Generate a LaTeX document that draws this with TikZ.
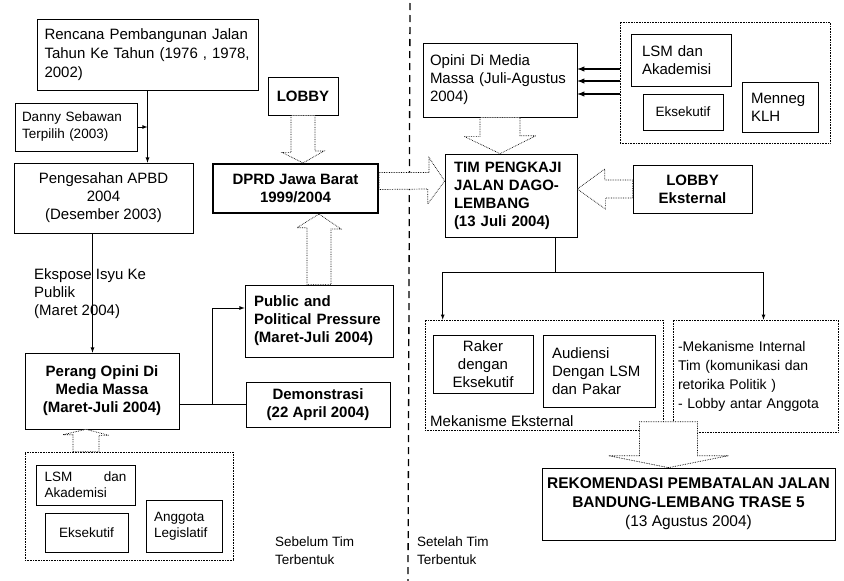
\documentclass[tikz,border=0pt]{standalone}
\usepackage{fontspec}
\setmainfont{Liberation Sans}
\usepackage{tikz}
\usetikzlibrary{shapes,arrows}

\begin{document}
\begin{tikzpicture}[x=1pt,y=-1pt]
		\tikzstyle {kotak} = [draw, line width=0.7pt, inner sep=0pt, align=center, font=\fontsize{15}{18}\selectfont]
		\tikzstyle {tebal} = [font=\bfseries\fontsize{15}{18}\selectfont]
		\tikzstyle {kecil} = [font=\fontsize{13.5}{16}\selectfont]
		\tikzstyle {kiri} = [align=left]
		\tikzstyle {grup} = [draw, densely dotted, line width=0.6pt, inner sep=0pt]
		\tikzstyle {teks} = [inner sep=0pt, align=left, font=\fontsize{15}{18}\selectfont]
		\tikzstyle {panah} = [-latex, line width=0.8pt]
		\tikzstyle {panah tebal} = [-latex, line width=1.4pt]
		\tikzstyle {panahblok} = [draw, densely dotted, line width=0.7pt, fill=white]
		\tikzstyle {pemisah} = [dash pattern=on 7pt off 5pt, line width=1.3pt]

		\useasboundingbox (0,0) rectangle (844,581);

		% sebelum tim terbentuk
		\node[kotak, kiri, font=\fontsize{15}{19}\selectfont, minimum width=221pt, minimum height=71pt, text width=206pt] (rencana) at (147.5,54.5) {Rencana Pembangunan Jalan\\Tahun Ke Tahun (1976 , 1978,\\2002)};
		\node[kotak, kiri, font=\fontsize{13.5}{17}\selectfont, minimum width=122pt, minimum height=48pt, text width=108pt] (danny) at (76,127) {Danny Sebawan\\Terpilih  (2003)};
		\node[kotak, minimum width=179pt, minimum height=70pt] (peng) at (103.5,198) {Pengesahan APBD\\2004\\(Desember 2003)};
		\node[teks, anchor=north west] (ekspose) at (34,268) {Ekspose Isyu Ke\\Publik\\(Maret 2004)};
		\node[kotak, tebal, minimum width=154pt, minimum height=76pt] (perang) at (102,391) {Perang Opini Di\\Media Massa\\(Maret-Juli 2004)};
		\node[kotak, tebal, kiri, minimum width=148pt, minimum height=72pt, text width=130pt] (public) at (319,321) {Public and\\Political Pressure\\(Maret-Juli 2004)};
		\node[kotak, tebal, minimum width=144pt, minimum height=45pt] (demo) at (318,404.5) {Demonstrasi\\(22 April 2004)};
		\node[kotak, tebal, line width=2pt, minimum width=165pt, minimum height=49pt] (dprd) at (295.5,188.5) {DPRD Jawa Barat\\1999/2004};
		\node[kotak, tebal, minimum width=70pt, minimum height=38pt] (lobby) at (303,96) {LOBBY};

		\node[grup, minimum width=208pt, minimum height=108pt] (grpkiri) at (129,506) {};
		\node[kotak, kecil, kiri, minimum width=99pt, minimum height=40pt, text width=82pt] (lsmkiri) at (85.5,485) {LSM \hfill dan\\Akademisi};
		\node[kotak, kecil, minimum width=83pt, minimum height=39pt] (ekskiri) at (86.5,532.5) {Eksekutif};
		\node[kotak, kecil, kiri, minimum width=76pt, minimum height=52pt, text width=60pt] (anggota) at (184,526) {Anggota\\Legislatif};
		\node[teks, anchor=north west, font=\fontsize{13.5}{18}\selectfont] (sebelum) at (275,537) {Sebelum Tim\\Terbentuk};

		\draw[panah] (rencana.south) -- (rencana.south |- peng.north);
		\draw[panah] (danny.east) -- (danny.east -| rencana.south);
		\draw[panah] ([xshift=-11pt]peng.south) -- ([xshift=-11pt]peng.south |- perang.north);
		\draw[line width=0.8pt] (perang.east |- demo.west) -- (demo.west);
		\coordinate (cabang) at (212,404.5);
		\draw[panah] (cabang) |- ([yshift=13pt]public.west);

		\draw[panahblok] ([xshift=-12pt]lobby.south) -- ++(0,37) -- ++(-9,0) -- (lobby.south |- dprd.north) -- ++(21,-12) -- ++(-9,0) -- ([xshift=12pt]lobby.south) -- cycle;
		\draw[panahblok] ([xshift=-12pt]public.north) -- ++(0,-57) -- ++(-10,0) -- (public.north |- dprd.south) -- ++(22,15) -- ++(-10,0) -- ([xshift=12pt]public.north) -- cycle;
		\draw[panahblok] ([xshift=-56pt]grpkiri.north) -- ++(0,-17) -- ++(-10,0) -- ([xshift=-43pt]grpkiri.north |- perang.south) -- ++(23,6) -- ++(-10,0) -- ([xshift=-30pt]grpkiri.north) -- cycle;

		\draw[pemisah] (410,3) -- (408,581);

		% setelah tim terbentuk
		\node[kotak, kiri, minimum width=154pt, minimum height=74pt, text width=140pt] (opini) at (500,80) {Opini Di Media\\Massa (Juli-Agustus\\2004)};
		\node[grup, minimum width=210pt, minimum height=121pt] (grpkanan) at (725,82.5) {};
		\node[kotak, kiri, minimum width=100pt, minimum height=52pt, text width=78pt] (lsmkanan) at (681,60) {LSM dan\\Akademisi};
		\node[kotak, kecil, minimum width=80pt, minimum height=36pt] (ekskanan) at (683,112) {Eksekutif};
		\node[kotak, kiri, minimum width=76pt, minimum height=50pt, text width=58pt] (menneg) at (780,107) {Menneg\\KLH};
		\node[kotak, tebal, kiri, minimum width=132pt, minimum height=83pt, text width=114pt] (tim) at (511,195.5) {TIM PENGKAJI\\JALAN DAGO-\\LEMBANG\\(13 Juli 2004)};
		\node[kotak, tebal, minimum width=119pt, minimum height=48pt] (lobbyx) at (692.5,189) {LOBBY\\Eksternal};

		\node[grup, minimum width=238pt, minimum height=110pt] (ekst) at (544,375) {};
		\node[kotak, minimum width=100pt, minimum height=58pt] (raker) at (483,364) {Raker\\dengan\\Eksekutif};
		\node[kotak, kiri, minimum width=112pt, minimum height=72pt, text width=94pt] (audiensi) at (599,371) {Audiensi\\Dengan LSM\\dan Pakar};
		\node[teks, anchor=west] (mekeks) at (430,421) {Mekanisme Eksternal};
		\node[grup, kiri, font=\fontsize{14}{19}\selectfont, minimum width=165pt, minimum height=112pt, text width=155pt] (intern) at (755.5,376) {-Mekanisme Internal\\Tim  (komunikasi dan\\retorika Politik )\\- Lobby antar Anggota};
		\node[kotak, tebal, font=\bfseries\fontsize{15.5}{19}\selectfont, minimum width=293pt, minimum height=72pt] (rekom) at (688.5,504) {REKOMENDASI PEMBATALAN JALAN\\BANDUNG-LEMBANG TRASE 5\\{\mdseries (13 Agustus 2004)}};
		\node[teks, anchor=north west, font=\fontsize{13.5}{18}\selectfont] (setelah) at (417,537) {Setelah Tim\\Terbentuk};

		\draw[panahblok] ([yshift=16pt]dprd.east) -- ++(50,0) -- ++(0,-15) -- ([yshift=7.5pt]dprd.east -| tim.west) -- ++(-17,23) -- ++(0,-15) -- ([yshift=-1pt]dprd.east) -- cycle;
		\foreach \dy in {13.5,1.5,-11.5}
			\draw[panah tebal] ([yshift=\dy pt]grpkanan.west) -- ([yshift=\dy pt]grpkanan.west -| opini.east);
		\draw[panahblok] ([xshift=-20pt]opini.south) -- ++(0,19) -- ++(-16,0) -- (opini.south |- tim.north) -- ++(36,-18) -- ++(-16,0) -- ([xshift=20pt]opini.south) -- cycle;
		\draw[panahblok] ([yshift=9pt]lobbyx.west) -- ++(-28,0) -- ++(0,-11) -- (tim.east |- lobbyx.west) -- ++(28,20) -- ++(0,-11) -- ([yshift=-9pt]lobbyx.west) -- cycle;

		\coordinate (bagi) at (555,272);
		\draw[line width=0.8pt] (tim.south -| bagi) -- (bagi);
		\draw[panah] (bagi) -| ([xshift=18pt]ekst.north west);
		\draw[panah] (bagi) -| ([xshift=8pt]intern.north);
		\draw[panahblok] ([xshift=-20pt]rekom.north) -- ++(60,-12) -- ++(-31,0) -- ++(0,-34) -- ++(-58,0) -- ++(0,34) -- ++(-31,0) -- cycle;
	\end{tikzpicture}
\end{document}
